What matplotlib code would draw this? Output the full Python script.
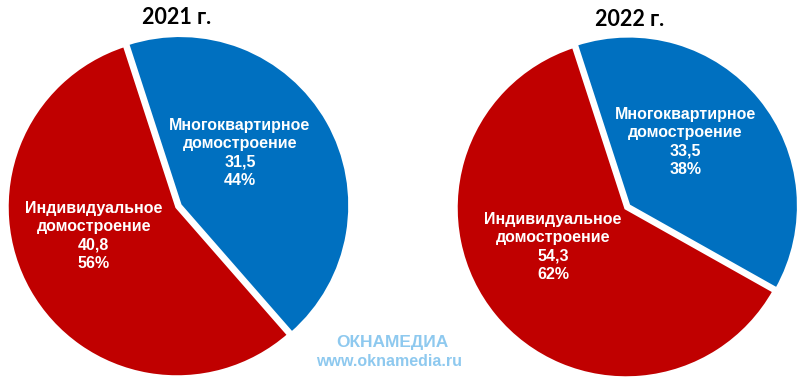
import matplotlib.pyplot as plt

# Данные: млн кв. м
categorias = ['Многоквартирное\nдомостроение', 'Индивидуальное\nдомостроение']
anios = ['2021 г.', '2022 г.']
valores_2021 = [31.5, 40.8]
valores_2022 = [33.5, 54.3]

colores = ['#0070C0', '#C00000']

W, H = 800, 380
fig = plt.figure(figsize=(W / 100, H / 100), dpi=100)
fig.patch.set_facecolor('white')

R = 170  # радиус в пикселях


def dibujar_pie(cx, cy, valores, titulo, pos_etiquetas, titulo_xy):
    # cx, cy - центр в пикселях (от верхнего левого угла)
    ax = fig.add_axes([(cx - R) / W, (H - cy - R) / H, 2 * R / W, 2 * R / H])
    ax.pie(valores, colors=colores, startangle=108, counterclock=False,
           explode=[0.02, 0], radius=1,
           wedgeprops=dict(edgecolor='white', linewidth=2.5))
    ax.set_xlim(-1.0, 1.0)
    ax.set_ylim(-1.0, 1.0)
    ax.set_aspect('equal')
    ax.axis('off')

    total = sum(valores)
    for cat, v, (px, py) in zip(categorias, valores, pos_etiquetas):
        pct = round(v / total * 100)
        txt = f"{cat}\n{str(v).replace('.', ',')}\n{pct}%"
        ax.text(px, py, txt, ha='center', va='center', color='white',
                fontsize=11.5, fontweight='bold', family='Liberation Sans',
                linespacing=1.28)

    fig.text(titulo_xy[0] / W, 1 - titulo_xy[1] / H, titulo, ha='center',
             va='center', fontsize=15.5, fontweight='bold', family='Lato')


dibujar_pie(177, 207, valores_2021, anios[0],
            [(0.37, 0.32), (-0.49, -0.17)], (177, 17))
dibujar_pie(626, 208, valores_2022, anios[1],
            [(0.35, 0.39), (-0.43, -0.23)], (630, 20))

# Водяной знак
fig.text(392 / W, 1 - 343 / H, 'ОКНАМЕДИА', ha='center', va='center',
         color='#8ec9ef', fontsize=12.5, fontweight='bold',
         family='Liberation Sans', zorder=10)
fig.text(389 / W, 1 - 362 / H, 'www.oknamedia.ru', ha='center', va='center',
         color='#8ec9ef', fontsize=11.5, fontweight='bold',
         family='Liberation Sans', zorder=10)

plt.savefig('out.png', dpi=100, facecolor='white')
